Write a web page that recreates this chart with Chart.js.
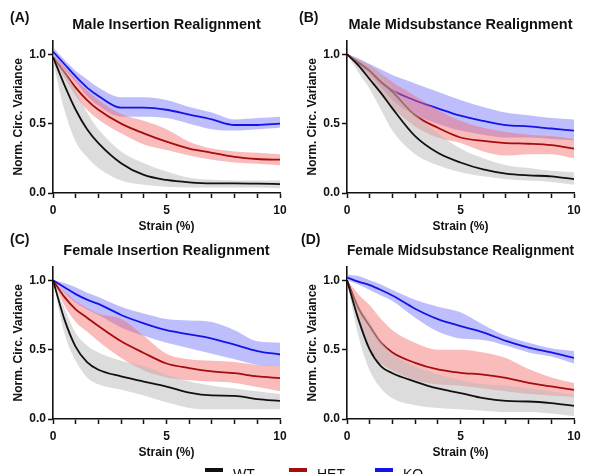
<!DOCTYPE html>
<html>
<head>
<meta charset="utf-8">
<script src="https://cdn.jsdelivr.net/npm/chart.js@4.4.1/dist/chart.umd.min.js"></script>
<style>
  html, body { margin: 0; padding: 0; background: #fff; }
  body { width: 592px; height: 474px; position: relative; overflow: hidden; font-family: "Liberation Sans", Arial, sans-serif; }
  canvas { position: absolute; }
  .plabel { position: absolute; font-weight: bold; font-size: 14px; line-height: 16px; color: #111; }
  .leg { position: absolute; top: 466px; font-size: 14px; line-height: 16px; color: #111; }
  .sw { position: absolute; height: 4px; width: 18px; }
</style>
</head>
<body>
<canvas id="cA" width="296" height="237" style="left:0;top:0"></canvas>
<canvas id="cB" width="296" height="237" style="left:294px;top:0"></canvas>
<canvas id="cC" width="296" height="237" style="left:0;top:226px"></canvas>
<canvas id="cD" width="296" height="237" style="left:294px;top:226px"></canvas>
<div class="plabel" style="left:10px;top:9px">(A)</div>
<div class="plabel" style="left:299px;top:9px">(B)</div>
<div class="plabel" style="left:10px;top:231px">(C)</div>
<div class="plabel" style="left:301px;top:231px">(D)</div>
<div id="legend"></div>
<script>
// ---- data ----
const strain = [0, 0.5, 1, 1.5, 2, 3, 4, 5, 6, 7, 8, 9, 10];
const xTickLabels = [0, 5, 10];
const yTickValues = [0, 0.5, 1.0];
const seriesNames = ['WT', 'HET', 'KO'];
const panelTitles = ['Male Insertion Realignment', 'Male Midsubstance Realignment',
                     'Female Insertion Realignment', 'Female Midsubstance Realignment'];

// Panel A
const wtA    = [0.98, 0.78, 0.60, 0.46, 0.36, 0.215, 0.13, 0.094, 0.077, 0.07, 0.07, 0.068, 0.064];
const wtA_hi = [1.00, 0.88, 0.74, 0.58, 0.46, 0.30, 0.215, 0.155, 0.11, 0.095, 0.09, 0.09, 0.09];
const wtA_lo = [0.95, 0.60, 0.37, 0.26, 0.18, 0.09, 0.06, 0.045, 0.04, 0.04, 0.04, 0.04, 0.035];
const hetA    = [0.98, 0.87, 0.76, 0.67, 0.60, 0.50, 0.43, 0.37, 0.32, 0.29, 0.26, 0.245, 0.24];
const hetA_hi = [1.00, 0.91, 0.82, 0.74, 0.67, 0.57, 0.52, 0.46, 0.37, 0.32, 0.30, 0.29, 0.28];
const hetA_lo = [0.96, 0.83, 0.70, 0.60, 0.53, 0.43, 0.35, 0.31, 0.27, 0.24, 0.22, 0.21, 0.20];
const koA    = [1.02, 0.93, 0.84, 0.76, 0.70, 0.615, 0.615, 0.60, 0.565, 0.53, 0.49, 0.49, 0.50];
const koA_hi = [1.05, 0.96, 0.88, 0.82, 0.76, 0.69, 0.69, 0.67, 0.62, 0.58, 0.53, 0.54, 0.55];
const koA_lo = [0.99, 0.89, 0.80, 0.70, 0.63, 0.55, 0.55, 0.54, 0.50, 0.46, 0.45, 0.46, 0.47];

// Panel B
const wtB    = [1.00, 0.92, 0.82, 0.72, 0.61, 0.41, 0.29, 0.22, 0.17, 0.14, 0.127, 0.12, 0.10];
const wtB_hi = [1.00, 0.97, 0.92, 0.85, 0.76, 0.57, 0.43, 0.32, 0.25, 0.20, 0.18, 0.16, 0.15];
const wtB_lo = [1.00, 0.87, 0.75, 0.60, 0.45, 0.28, 0.20, 0.15, 0.12, 0.10, 0.09, 0.08, 0.06];
const hetB    = [1.00, 0.94, 0.88, 0.80, 0.73, 0.56, 0.47, 0.40, 0.375, 0.36, 0.355, 0.345, 0.32];
const hetB_hi = [1.00, 0.96, 0.92, 0.86, 0.80, 0.70, 0.60, 0.52, 0.47, 0.44, 0.42, 0.41, 0.39];
const hetB_lo = [1.00, 0.91, 0.82, 0.72, 0.62, 0.48, 0.40, 0.36, 0.30, 0.27, 0.28, 0.28, 0.25];
const koB    = [1.00, 0.94, 0.88, 0.80, 0.74, 0.667, 0.61, 0.557, 0.52, 0.49, 0.48, 0.465, 0.45];
const koB_hi = [1.00, 0.97, 0.93, 0.89, 0.85, 0.79, 0.73, 0.67, 0.62, 0.58, 0.56, 0.54, 0.53];
const koB_lo = [1.00, 0.92, 0.85, 0.76, 0.67, 0.56, 0.50, 0.45, 0.42, 0.40, 0.40, 0.39, 0.38];

// Panel C
const wtC    = [1.00, 0.72, 0.52, 0.41, 0.355, 0.307, 0.27, 0.234, 0.19, 0.17, 0.167, 0.143, 0.13];
const wtC_hi = [1.00, 0.80, 0.62, 0.53, 0.48, 0.42, 0.38, 0.32, 0.27, 0.24, 0.22, 0.20, 0.18];
const wtC_lo = [1.00, 0.62, 0.42, 0.30, 0.25, 0.21, 0.17, 0.12, 0.08, 0.07, 0.07, 0.07, 0.07];
const hetC    = [1.00, 0.88, 0.79, 0.73, 0.67, 0.56, 0.476, 0.40, 0.367, 0.343, 0.33, 0.307, 0.295];
const hetC_hi = [1.00, 0.92, 0.85, 0.80, 0.76, 0.72, 0.60, 0.47, 0.43, 0.42, 0.41, 0.39, 0.38];
const hetC_lo = [1.00, 0.82, 0.70, 0.63, 0.56, 0.44, 0.35, 0.30, 0.28, 0.27, 0.26, 0.23, 0.20];
const koC    = [1.00, 0.95, 0.90, 0.86, 0.83, 0.75, 0.69, 0.64, 0.61, 0.58, 0.536, 0.49, 0.465];
const koC_hi = [1.00, 0.98, 0.95, 0.91, 0.88, 0.81, 0.76, 0.72, 0.71, 0.70, 0.64, 0.56, 0.55];
const koC_lo = [1.00, 0.91, 0.84, 0.79, 0.75, 0.66, 0.60, 0.55, 0.51, 0.47, 0.43, 0.39, 0.38];

// Panel D
const wtD    = [1.00, 0.72, 0.50, 0.38, 0.33, 0.27, 0.22, 0.187, 0.15, 0.13, 0.126, 0.114, 0.095];
const wtD_hi = [1.00, 0.82, 0.70, 0.56, 0.47, 0.38, 0.32, 0.28, 0.25, 0.24, 0.22, 0.20, 0.17];
const wtD_lo = [1.00, 0.60, 0.35, 0.22, 0.15, 0.10, 0.08, 0.07, 0.06, 0.05, 0.05, 0.04, 0.02];
const hetD    = [1.00, 0.80, 0.67, 0.55, 0.48, 0.405, 0.357, 0.333, 0.32, 0.296, 0.26, 0.235, 0.21];
const hetD_hi = [1.00, 0.90, 0.82, 0.72, 0.64, 0.55, 0.50, 0.50, 0.48, 0.44, 0.36, 0.30, 0.26];
const hetD_lo = [1.00, 0.70, 0.50, 0.40, 0.35, 0.28, 0.25, 0.24, 0.22, 0.20, 0.18, 0.17, 0.16];
const koD    = [1.02, 0.99, 0.965, 0.93, 0.89, 0.795, 0.72, 0.67, 0.625, 0.563, 0.515, 0.48, 0.44];
const koD_hi = [1.04, 1.03, 1.00, 0.97, 0.93, 0.86, 0.81, 0.77, 0.68, 0.60, 0.55, 0.51, 0.49];
const koD_lo = [1.00, 0.97, 0.93, 0.89, 0.85, 0.73, 0.63, 0.58, 0.57, 0.53, 0.48, 0.45, 0.40];

// ---- styles ----
const lineColors = ['#111111', '#a30d0d', '#1414e6'];
const bandColors = ['rgba(185,185,185,0.5)', 'rgba(245,105,105,0.45)', 'rgba(110,110,250,0.45)'];
const FONT = '"Liberation Sans", Arial, sans-serif';

function pts(arr) { return strain.map((x, i) => ({ x: x, y: arr[i] })); }

// drawing order (bottom -> top): KO band, KO line, HET band, HET line, WT band, WT line
function makeChart(id, title, groups) {
  const datasets = [];
  groups.forEach((g, k) => {
    const base = datasets.length;
    const bandOrder = 2 * k + 2, lineOrder = 2 * k + 1;
    datasets.push({ data: pts(g.hi), borderWidth: 0, pointRadius: 0, fill: { target: base + 1 },
      backgroundColor: bandColors[k], cubicInterpolationMode: 'monotone', order: bandOrder });
    datasets.push({ data: pts(g.lo), borderWidth: 0, pointRadius: 0, fill: false,
      cubicInterpolationMode: 'monotone', order: bandOrder });
    datasets.push({ label: seriesNames[k], data: pts(g.mean), borderColor: lineColors[k], borderWidth: 1.8,
      pointRadius: 0, fill: false, cubicInterpolationMode: 'monotone', order: lineOrder });
  });
  const tickFont = { family: FONT, size: 12, weight: 'bold' };
  return new Chart(document.getElementById(id), {
    type: 'line',
    data: { datasets },
    options: {
      responsive: false, animation: false, events: [],
      layout: { padding: { left: 0, right: 16, top: 0, bottom: 0 } },
      plugins: {
        legend: { display: false }, tooltip: { enabled: false },
        title: { display: true, text: title, fullSize: false, color: '#111',
          font: { family: FONT, size: 14.5, weight: 'bold' }, padding: { top: 16, bottom: 7 } }
      },
      scales: {
        x: {
          type: 'linear', min: 0, max: 10,
          afterBuildTicks: s => { s.ticks = strain.filter(v => Number.isInteger(v)).map(v => ({ value: v })); },
          ticks: { autoSkip: false, maxRotation: 0, color: '#111', font: tickFont, padding: 5,
            callback: v => xTickLabels.includes(v) ? String(v) : '' },
          grid: { drawOnChartArea: false, drawTicks: true, tickLength: 5, tickColor: '#111', tickWidth: 1.5 },
          border: { color: '#111', width: 1.6 },
          title: { display: true, text: 'Strain (%)', color: '#111', font: { family: FONT, size: 12, weight: 'bold' },
            padding: { top: 0, bottom: 3 } },
          afterFit: s => { s.height = 44; }
        },
        y: {
          min: 0, max: 1.1,
          afterBuildTicks: s => { s.ticks = yTickValues.map(v => ({ value: v })); },
          ticks: { color: '#111', font: tickFont, padding: 2, callback: v => v.toFixed(1) },
          grid: { drawOnChartArea: false, drawTicks: true, tickLength: 5, tickColor: '#111', tickWidth: 1.5 },
          border: { color: '#111', width: 1.6 },
          title: { display: true, text: 'Norm. Circ. Variance', color: '#111',
            font: { family: FONT, size: 12, weight: 'bold' }, padding: { top: 11, bottom: 0 } },
          afterFit: s => { s.width = 53; }
        }
      }
    }
  });
}

makeChart('cA', panelTitles[0], [
  { mean: wtA, hi: wtA_hi, lo: wtA_lo }, { mean: hetA, hi: hetA_hi, lo: hetA_lo }, { mean: koA, hi: koA_hi, lo: koA_lo }]);
makeChart('cB', panelTitles[1], [
  { mean: wtB, hi: wtB_hi, lo: wtB_lo }, { mean: hetB, hi: hetB_hi, lo: hetB_lo }, { mean: koB, hi: koB_hi, lo: koB_lo }]);
makeChart('cC', panelTitles[2], [
  { mean: wtC, hi: wtC_hi, lo: wtC_lo }, { mean: hetC, hi: hetC_hi, lo: hetC_lo }, { mean: koC, hi: koC_hi, lo: koC_lo }]);
makeChart('cD', panelTitles[3], [
  { mean: wtD, hi: wtD_hi, lo: wtD_lo }, { mean: hetD, hi: hetD_hi, lo: hetD_lo }, { mean: koD, hi: koD_hi, lo: koD_lo }]);

// legend
const legendX = [205, 289, 375];
const leg = document.getElementById('legend');
seriesNames.forEach((n, k) => {
  const sw = document.createElement('div');
  sw.className = 'sw';
  sw.style.left = legendX[k] + 'px';
  sw.style.top = '468px';
  sw.style.background = lineColors[k];
  leg.appendChild(sw);
  const t = document.createElement('div');
  t.className = 'leg';
  t.style.left = (legendX[k] + 28) + 'px';
  t.textContent = n;
  leg.appendChild(t);
});
</script>
</body>
</html>
